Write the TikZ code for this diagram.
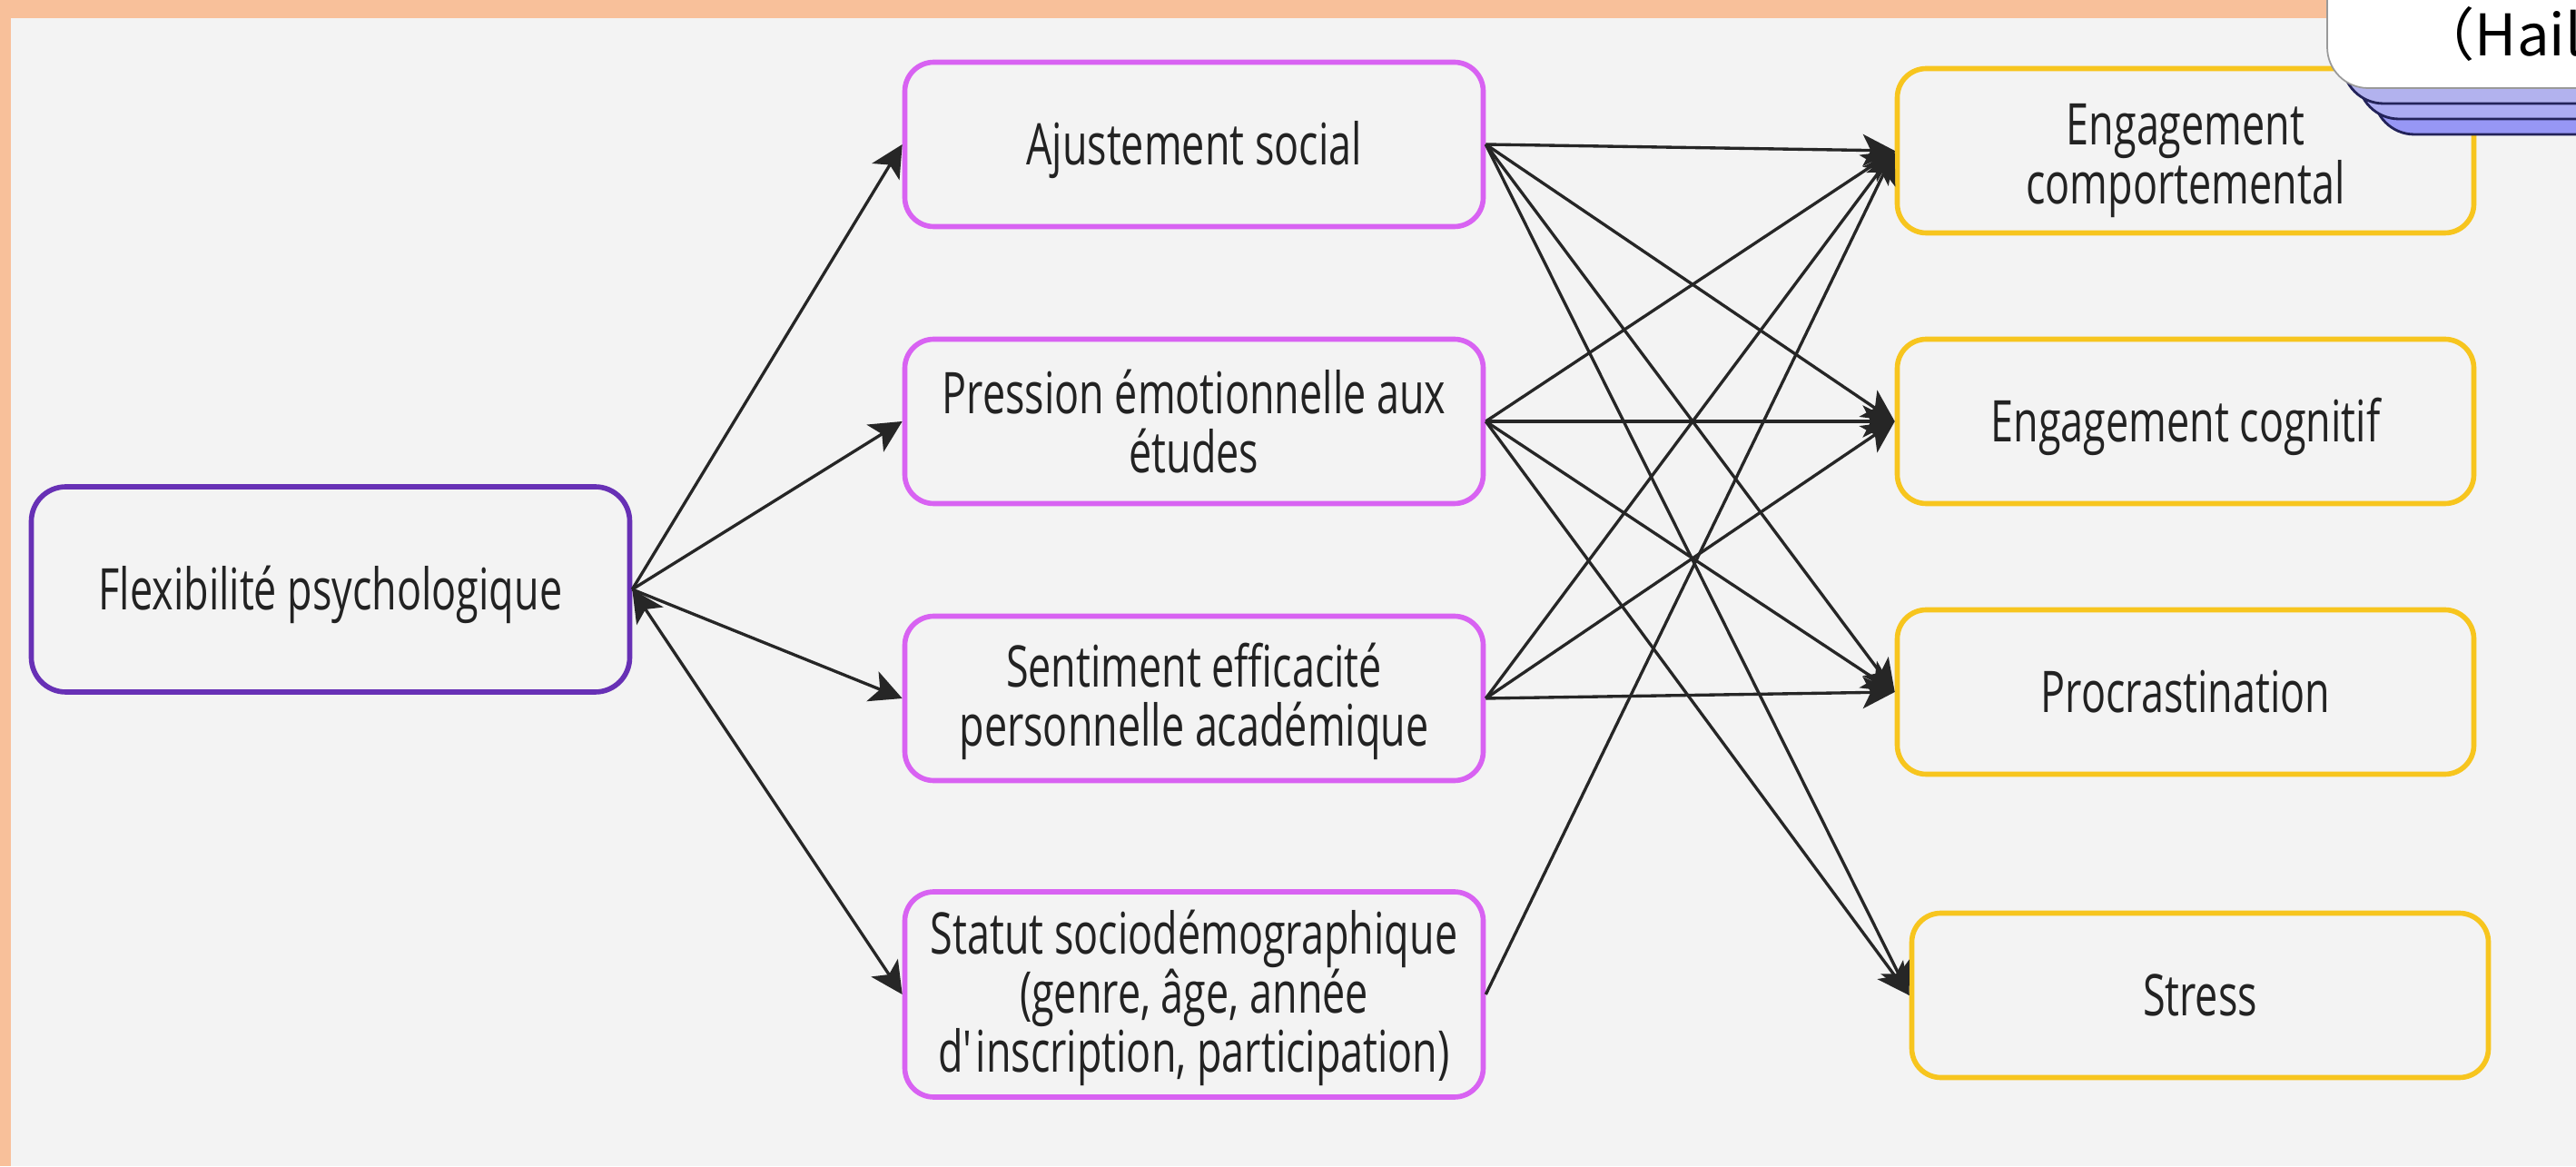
\documentclass[tikz,border=0pt]{standalone}
\usepackage{fontspec}
\setmainfont{Open Sans}[FakeStretch=0.71]
\newfontfamily\cjkfont{Noto Sans CJK SC}
\usepackage{xcolor}
\usetikzlibrary{arrows.meta}

\definecolor{pagegrey}{HTML}{F3F3F3}
\definecolor{frameorange}{HTML}{F8C09A}
\definecolor{flexpurple}{HTML}{6730B5}
\definecolor{medpink}{HTML}{D862F2}
\definecolor{outyellow}{HTML}{F7C51E}
\definecolor{linkgrey}{HTML}{262626}
\definecolor{textgrey}{HTML}{222222}
\definecolor{stackblue}{HTML}{B2B2EE}
\definecolor{stacknavy}{HTML}{23235A}

\newcommand{\linelift}[1][19pt]{\rule{0pt}{#1}}

\begin{document}
\begin{tikzpicture}[
    box/.style={draw, line width=1.6pt, rounded corners=0.32cm,
        minimum width=6.37cm, minimum height=1.81cm, inner sep=0pt,
        align=center, text=textgrey, font=\fontsize{18}{18.5}\selectfont},
    single/.style={execute at begin node={\rule{0pt}{18pt}},
        execute at end node={\rule[-5pt]{0pt}{5pt}}},
    flexbox/.style={box, single, draw=flexpurple, minimum width=6.59cm,
        minimum height=2.26cm, rounded corners=0.38cm},
    medbox/.style={box, draw=medpink},
    outbox/.style={box, draw=outyellow, minimum width=6.35cm},
    link/.style={-{Stealth[length=10pt,width=10pt,inset=2.5pt]},
        line width=0.95pt, draw=linkgrey},
    stackcard/.style={draw=stacknavy, line width=0.8pt,
        rounded corners=0.45cm}
    ]
    \useasboundingbox (0,0) rectangle (28.37,12.84);
    % page
    \fill[frameorange] (0,0) rectangle (28.37,12.84);
    \fill[pagegrey] (0.12,0) rectangle (28.37,12.64);

    % nodes
    \node[flexbox] (flex) at (3.64,6.35) {Flexibilité psychologique};

    \node[medbox, single] (ajust) at (13.15,11.25) {Ajustement social};
    \node[medbox] (press) at (13.15,8.20) {\linelift[13pt]Pression émotionnelle aux\\ études};
    \node[medbox] (senti) at (13.15,5.15) {\linelift[15.5pt]Sentiment efficacité\\ personnelle académique};
    \node[medbox, minimum height=2.26cm] (statut) at (13.15,1.89)
        {\linelift[16pt]Statut sociodémographique\\ (genre, âge, année\\ d\textquotesingle inscription, participation)};

    \node[outbox] (engcomp) at (24.07,11.18) {\linelift Engagement\\ comportemental};
    \node[outbox, single] (engcog) at (24.07,8.20) {Engagement cognitif};
    \node[outbox, single] (procras) at (24.07,5.22) {Procrastination};
    \node[outbox, single] (stress) at (24.23,1.88) {Stress};

    % links
    \foreach \med in {ajust,press,senti}
        \draw[link] (flex.east) -- (\med.west);
    \draw[link, {Stealth[length=10pt,width=10pt,inset=2.5pt]}-{Stealth[length=10pt,width=10pt,inset=2.5pt]}]
        (flex.east) -- (statut.west);
    \foreach \out in {engcomp,engcog,procras,stress}{
        \draw[link] (ajust.east) -- (\out.west);
        \draw[link] (press.east) -- (\out.west);
    }
    \foreach \out in {engcomp,engcog,procras}
        \draw[link] (senti.east) -- (\out.west);
    \draw[link] (statut.east) -- (engcomp.west);

    % card in the corner
    \begin{scope}
        \clip (0,0) rectangle (28.37,12.84);
        \draw[stackcard, fill=stackblue!70!blue!80] (26.14,11.36) rectangle ++(3.5,2);
        \draw[stackcard, fill=stackblue!85!blue!80] (25.97,11.53) rectangle ++(3.5,2);
        \draw[stackcard, fill=stackblue] (25.80,11.70) rectangle ++(3.5,2);
        \draw[fill=white, draw=black!40, line width=0.5pt, rounded corners=0.45cm]
            (25.63,11.87) rectangle ++(3.5,2);
        \node[anchor=base west, inner sep=0pt, text=black,
            font=\cjkfont\fontsize{18}{18}\selectfont] (hail) at (26.62,12.22) {（Hail};
    \end{scope}
\end{tikzpicture}
\end{document}
